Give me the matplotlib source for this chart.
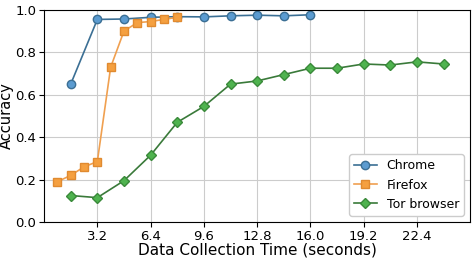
import matplotlib
matplotlib.use('Agg')
import matplotlib.pyplot as plt

# tempo de coleta (s) e acurácia por navegador
t_chrome = [1.6, 3.2, 4.8, 6.4, 8.0, 9.6, 11.2, 12.8, 14.4, 16.0]
acc_chrome = [0.65, 0.955, 0.957, 0.965, 0.968, 0.967, 0.972, 0.975, 0.972, 0.977]

t_firefox = [0.8, 1.6, 2.4, 3.2, 4.0, 4.8, 5.6, 6.4, 7.2, 8.0]
acc_firefox = [0.19, 0.22, 0.26, 0.285, 0.73, 0.90, 0.94, 0.945, 0.955, 0.965]

t_tor = [1.6, 3.2, 4.8, 6.4, 8.0, 9.6, 11.2, 12.8, 14.4, 16.0, 17.6, 19.2, 20.8, 22.4, 24.0]
acc_tor = [0.125, 0.115, 0.195, 0.315, 0.47, 0.545, 0.65, 0.665, 0.695, 0.725,
           0.725, 0.745, 0.74, 0.755, 0.745]

xticks = [3.2, 6.4, 9.6, 12.8, 16.0, 19.2, 22.4]

fig, ax = plt.subplots(figsize=(4.74, 2.6), dpi=100)
fig.subplots_adjust(left=0.093, right=0.992, top=0.962, bottom=0.146)

ax.plot(t_chrome, acc_chrome, '-o', color='#3b6f94', mfc='#5b9bd0', mec='#3b6f94',
        ms=6, lw=1.2, label='Chrome')
ax.plot(t_firefox, acc_firefox, '-s', color='#f0a050', mfc='#f5a040', mec='#e08a30',
        ms=6, lw=1.2, label='Firefox')
ax.plot(t_tor, acc_tor, '-D', color='#3a7a3a', mfc='#4fb34f', mec='#3a8a3a',
        ms=5.5, lw=1.2, label='Tor browser')

ax.set_xlim(0, 25.6)
ax.set_ylim(0, 1.0)
ax.set_xticks(xticks)
ax.set_xticklabels(['%.1f' % v for v in xticks])
ax.tick_params(labelsize=9.5, pad=2)
ax.grid(True, color='#cccccc', lw=0.8)
ax.set_xlabel('Data Collection Time (seconds)', fontsize=11, labelpad=0)
ax.set_ylabel('Accuracy', fontsize=10.5)
ax.yaxis.set_label_coords(-0.07, 0.5)
ax.legend(loc='lower right', fontsize=9, framealpha=1, edgecolor='#cccccc',
          handlelength=1.8)

plt.savefig('out.png')
